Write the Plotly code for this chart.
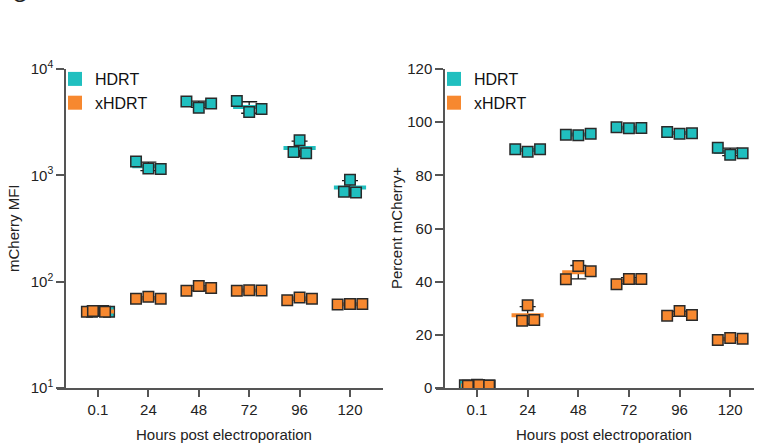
import numpy as np
import plotly.graph_objects as go

# ---------------- data ----------------
HOURS = ["0.1", "24", "48", "72", "96", "120"]

MFI_HDRT = [[52, 53, 52], [1350, 1160, 1150], [4950, 4320, 4750],
            [4990, 3950, 4200], [1660, 2140, 1610], [700, 910, 690]]
MFI_XHDRT = [[52, 53, 52], [69, 72, 69], [82, 91, 87],
             [82, 83, 82.5], [67, 71, 69], [61, 61.5, 61.5]]

PCT_HDRT = [[1.0, 1.2, 0.9], [89.8, 88.9, 89.8], [95.3, 95.1, 95.6],
            [98.1, 97.7, 97.8], [96.3, 95.6, 95.8], [90.4, 87.7, 88.3]]
PCT_XHDRT = [[0.8, 1.1, 0.9], [25.3, 31.1, 25.6], [40.9, 45.9, 43.9],
             [39.0, 41.0, 41.0], [27.2, 29.0, 27.5], [18.1, 18.8, 18.5]]

# horizontal spread of replicate points (category units, styling only)
STD = [-0.245, 0.0, 0.245]
JIT_MFI_HDRT = [[-0.12, 0.1, 0.22], STD, STD, STD, [-0.12, 0.0, 0.13], [-0.12, 0.0, 0.12]]
JIT_MFI_XHDRT = [[-0.22, -0.1, 0.14], STD, STD, STD, STD, STD]
JIT_PCT_HDRT = [[-0.24, 0.0, 0.25], STD, STD, STD, STD, STD]
JIT_PCT_XHDRT = [[-0.18, 0.04, 0.24], [-0.11, 0.0, 0.13], STD, STD, STD, STD]

TEAL = "#20BFBF"
ORANGE = "#F7882F"
EDGE = "#2a2a2a"
AXC = "#555555"
FONT = "Arial, Liberation Sans, sans-serif"

fig = go.Figure()


def add_series(vals, jit, color, xa, ya):
    idx = np.arange(len(HOURS))
    arr = np.array(vals, dtype=float)
    means = arr.mean(axis=1)
    sds = arr.std(axis=1, ddof=1)
    # mean bar + SD error bar
    fig.add_trace(go.Scatter(
        x=idx, y=means, mode="markers", xaxis=xa, yaxis=ya, showlegend=False,
        marker=dict(symbol="line-ew", size=23, color=color,
                    line=dict(width=4, color=color)),
        error_y=dict(type="data", array=sds, visible=True, color="#1a1a1a",
                     thickness=1.3, width=8),
        hoverinfo="skip"))
    xs, ys = [], []
    for i in range(len(HOURS)):
        for v, j in zip(vals[i], jit[i]):
            xs.append(i + j)
            ys.append(v)
    fig.add_trace(go.Scatter(
        x=xs, y=ys, mode="markers", xaxis=xa, yaxis=ya, showlegend=False,
        marker=dict(symbol="square", size=10.5, color=color,
                    line=dict(width=1.5, color=EDGE))))


add_series(MFI_HDRT, JIT_MFI_HDRT, TEAL, "x", "y")
add_series(MFI_XHDRT, JIT_MFI_XHDRT, ORANGE, "x", "y")
add_series(PCT_HDRT, JIT_PCT_HDRT, TEAL, "x2", "y2")
add_series(PCT_XHDRT, JIT_PCT_XHDRT, ORANGE, "x2", "y2")

# legend entries
for name, col in [("HDRT", TEAL), ("xHDRT", ORANGE)]:
    fig.add_trace(go.Scatter(x=[None], y=[None], mode="markers", name=name,
                             xaxis="x", yaxis="y", legend="legend",
                             marker=dict(symbol="square", size=14, color=col)))
    fig.add_trace(go.Scatter(x=[None], y=[None], mode="markers", name=name,
                             xaxis="x2", yaxis="y2", legend="legend2",
                             marker=dict(symbol="square", size=14, color=col)))

L, R, T, B = 57, 4, 69, 56
W, H = 758, 444
PW = W - L - R
PH = H - T - B


def px_x(p):
    return (p - L) / PW


def px_y(p):
    return (H - B - p) / PH


xcommon = dict(tickmode="array", tickvals=list(range(len(HOURS))), ticktext=HOURS,
               ticks="outside", ticklen=7, tickwidth=1.5, tickcolor=AXC,
               showline=True, linecolor=AXC, linewidth=1.5, showgrid=False,
               zeroline=False, tickfont=dict(size=15, color="#222", family=FONT))
ycommon = dict(ticks="outside", ticklen=8, tickwidth=1.5, tickcolor=AXC,
               showline=True, linecolor=AXC, linewidth=1.5, showgrid=False,
               zeroline=False, tickfont=dict(size=15, color="#222", family=FONT),
               anchor="free")


def ann(text, x, y, angle=0, size=15):
    return dict(text=text, x=px_x(x), y=px_y(y), xref="paper", yref="paper",
                xanchor="center", yanchor="middle", textangle=angle,
                showarrow=False, font=dict(size=size, color="#222", family=FONT))


fig.update_layout(
    width=W, height=H, margin=dict(l=L, r=R, t=T, b=B),
    paper_bgcolor="white", plot_bgcolor="white",
    font=dict(family=FONT, size=15, color="#222"),
    xaxis=dict(domain=[0, px_x(383)], range=[-0.813, 5.655], anchor="y", **xcommon),
    yaxis=dict(type="log", range=[1, 4], domain=[0, 1], position=px_x(65),
               tickmode="array", tickvals=[10, 100, 1000, 10000],
               ticktext=["10<sup>1</sup>", "10<sup>2</sup>", "10<sup>3</sup>", "10<sup>4</sup>"],
               **ycommon),
    xaxis2=dict(domain=[px_x(436), 1], range=[-0.81, 5.47], anchor="y2", **xcommon),
    yaxis2=dict(range=[0, 120], dtick=20, domain=[0, 1], position=px_x(444), **ycommon),
    legend=dict(x=px_x(55), y=px_y(62), xanchor="left", yanchor="top",
                bgcolor="rgba(0,0,0,0)", itemsizing="trace", tracegroupgap=0,
                font=dict(size=16, color="#111", family=FONT)),
    legend2=dict(x=px_x(434), y=px_y(62), xanchor="left", yanchor="top",
                 bgcolor="rgba(0,0,0,0)", itemsizing="trace", tracegroupgap=0,
                 font=dict(size=16, color="#111", family=FONT)),
    annotations=[
        ann("mCherry MFI", 13, 228, -90),
        ann("Percent mCherry+", 396, 228, -90),
        ann("Hours post electroporation", 224, 434),
        ann("Hours post electroporation", 604, 434),
        ann("C", 19, -6, 0, 21),
    ],
)

fig.write_html("out.html")
